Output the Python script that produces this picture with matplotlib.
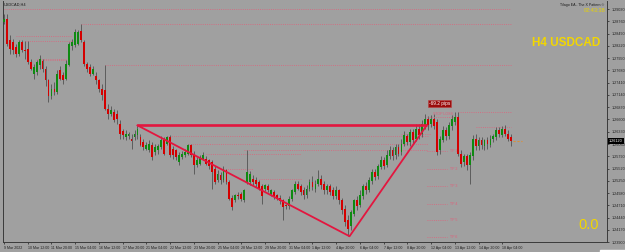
import matplotlib
matplotlib.use('Agg')
import matplotlib.pyplot as plt
from matplotlib.patches import Rectangle

# ---------------- data (USDCAD H4) ----------------
opens = [1.2874,1.2882,1.2834,1.2830,1.2819,1.2803,1.2830,1.2812,1.2816,1.2786,
 1.2761,1.2764,1.2779,1.2788,1.2770,1.2746,1.2711,1.2728,1.2720,1.2768,
 1.2757,1.2750,1.2779,1.2821,1.2823,1.2827,1.2854,1.2830,1.2781,1.2775,
 1.2761,1.2755,1.2746,1.2728,1.2724,1.2684,1.2671,1.2676,1.2671,1.2651,
 1.2634,1.2621,1.2623,1.2618,1.2621,1.2625,1.2621,1.2610,1.2596,1.2592,
 1.2603,1.2588,1.2592,1.2599,1.2614,1.2607,1.2621,1.2596,1.2592,1.2566,
 1.2577,1.2581,1.2585,1.2603,1.2585,1.2559,1.2563,1.2574,1.2572,1.2570,
 1.2566,1.2552,1.2526,1.2537,1.2526,1.2548,1.2522,1.2488,1.2482,1.2493,
 1.2495,1.2482,1.2522,1.2522,1.2530,1.2526,1.2522,1.2513,1.2508,1.2513,
 1.2495,1.2500,1.2493,1.2488,1.2482,1.2471,1.2469,1.2484,1.2500,1.2519,
 1.2513,
 1.2504,1.2493,1.2506,1.2522,1.2508,1.2517,1.2530,1.2517,1.2504,1.2513,
 1.2504,1.2491,1.2504,1.2482,1.2464,1.2438,1.2425,1.2453,1.2482,1.2471,
 1.2491,1.2513,1.2504,1.2524,1.2544,1.2535,1.2555,1.2570,1.2559,1.2579,
 1.2592,1.2581,1.2599,1.2588,1.2607,1.2623,1.2610,1.2632,1.2618,1.2640,
 1.2627,1.2647,1.2660,1.2649,1.2662,1.2654,1.2592,1.2614,1.2636,1.2623,
 1.2645,1.2654,1.2665,1.2585,1.2566,1.2579,1.2559,1.2579,1.2618,1.2601,
 1.2614,1.2601,1.2614,1.2603,1.2616,1.2621,1.2636,1.2625,1.2640,1.2629,
 1.2621]
highs = [1.2893,1.2891,1.2845,1.2838,1.2825,1.2834,1.2834,1.2832,1.2832,1.2794,
 1.2781,1.2790,1.2801,1.2794,1.2777,1.2750,1.2737,1.2742,1.2768,1.2777,
 1.2764,1.2790,1.2830,1.2838,1.2860,1.2856,1.2871,1.2834,1.2786,1.2781,
 1.2777,1.2764,1.2750,1.2737,1.2779,1.2693,1.2689,1.2684,1.2680,1.2658,
 1.2640,1.2636,1.2632,1.2627,1.2636,1.2647,1.2627,1.2616,1.2610,1.2614,
 1.2610,1.2605,1.2605,1.2623,1.2621,1.2623,1.2625,1.2601,1.2596,1.2588,
 1.2590,1.2594,1.2607,1.2607,1.2590,1.2577,1.2581,1.2588,1.2579,1.2574,
 1.2570,1.2557,1.2548,1.2544,1.2557,1.2552,1.2526,1.2493,1.2497,1.2500,
 1.2500,1.2508,1.2592,1.2546,1.2537,1.2533,1.2526,1.2517,1.2519,1.2519,
 1.2508,1.2504,1.2497,1.2493,1.2486,1.2475,1.2491,1.2508,1.2524,1.2524,
 1.2517,
 1.2511,1.2515,1.2530,1.2535,1.2526,1.2548,1.2537,1.2524,1.2519,1.2517,
 1.2511,1.2513,1.2508,1.2488,1.2471,1.2449,1.2460,1.2486,1.2491,1.2504,
 1.2517,1.2522,1.2533,1.2552,1.2552,1.2563,1.2579,1.2577,1.2592,1.2601,
 1.2599,1.2605,1.2607,1.2618,1.2634,1.2629,1.2640,1.2640,1.2649,1.2649,
 1.2658,1.2671,1.2667,1.2669,1.2671,1.2662,1.2623,1.2645,1.2643,1.2654,
 1.2669,1.2676,1.2676,1.2592,1.2583,1.2585,1.2588,1.2625,1.2627,1.2621,
 1.2621,1.2618,1.2621,1.2625,1.2629,1.2643,1.2643,1.2645,1.2647,1.2636,
 1.2627]
lows = [1.2869,1.2821,1.2805,1.2805,1.2797,1.2799,1.2808,1.2794,1.2781,1.2768,
 1.2750,1.2757,1.2772,1.2764,1.2733,1.2698,1.2704,1.2713,1.2715,1.2746,
 1.2737,1.2746,1.2777,1.2812,1.2819,1.2823,1.2830,1.2777,1.2764,1.2755,
 1.2757,1.2737,1.2720,1.2702,1.2680,1.2662,1.2667,1.2654,1.2649,1.2618,
 1.2618,1.2614,1.2616,1.2594,1.2614,1.2618,1.2601,1.2592,1.2592,1.2588,
 1.2570,1.2581,1.2585,1.2594,1.2581,1.2603,1.2577,1.2574,1.2570,1.2559,
 1.2572,1.2577,1.2581,1.2577,1.2541,1.2555,1.2559,1.2570,1.2559,1.2552,
 1.2508,1.2517,1.2522,1.2519,1.2522,1.2517,1.2482,1.2460,1.2478,1.2484,
 1.2480,1.2478,1.2517,1.2515,1.2515,1.2511,1.2504,1.2475,1.2502,1.2500,
 1.2491,1.2486,1.2482,1.2475,1.2438,1.2464,1.2462,1.2480,1.2495,1.2504,
 1.2493,
 1.2486,1.2488,1.2502,1.2504,1.2500,1.2513,1.2508,1.2497,1.2495,1.2493,
 1.2484,1.2486,1.2473,1.2451,1.2425,1.2403,1.2416,1.2447,1.2460,1.2467,
 1.2486,1.2497,1.2500,1.2519,1.2526,1.2530,1.2550,1.2550,1.2555,1.2572,
 1.2570,1.2574,1.2579,1.2581,1.2601,1.2603,1.2601,1.2607,1.2612,1.2618,
 1.2621,1.2640,1.2636,1.2643,1.2640,1.2581,1.2585,1.2610,1.2614,1.2618,
 1.2636,1.2647,1.2579,1.2555,1.2557,1.2548,1.2519,1.2570,1.2592,1.2592,
 1.2596,1.2592,1.2596,1.2599,1.2610,1.2614,1.2621,1.2621,1.2623,1.2612,
 1.2601]
closes = [1.2882,1.2825,1.2816,1.2812,1.2803,1.2830,1.2812,1.2810,1.2786,1.2772,
 1.2775,1.2786,1.2794,1.2770,1.2746,1.2711,1.2728,1.2720,1.2759,1.2750,
 1.2746,1.2783,1.2825,1.2830,1.2852,1.2852,1.2834,1.2781,1.2772,1.2761,
 1.2772,1.2746,1.2728,1.2713,1.2684,1.2671,1.2680,1.2658,1.2662,1.2627,
 1.2625,1.2629,1.2627,1.2612,1.2629,1.2640,1.2603,1.2599,1.2603,1.2607,
 1.2577,1.2599,1.2601,1.2614,1.2585,1.2621,1.2581,1.2581,1.2577,1.2581,
 1.2583,1.2588,1.2603,1.2581,1.2559,1.2570,1.2577,1.2581,1.2563,1.2557,
 1.2544,1.2522,1.2541,1.2526,1.2552,1.2522,1.2486,1.2467,1.2493,1.2491,
 1.2484,1.2504,1.2544,1.2539,1.2522,1.2517,1.2508,1.2491,1.2515,1.2504,
 1.2504,1.2491,1.2486,1.2480,1.2467,1.2469,1.2486,1.2504,1.2519,1.2508,
 1.2500,
 1.2493,1.2508,1.2522,1.2511,1.2519,1.2530,1.2515,1.2504,1.2513,1.2500,
 1.2491,1.2504,1.2482,1.2460,1.2434,1.2420,1.2456,1.2482,1.2469,1.2493,
 1.2513,1.2504,1.2526,1.2544,1.2533,1.2557,1.2570,1.2557,1.2581,1.2592,
 1.2579,1.2599,1.2585,1.2607,1.2625,1.2610,1.2632,1.2614,1.2640,1.2625,
 1.2649,1.2662,1.2647,1.2662,1.2645,1.2588,1.2618,1.2636,1.2623,1.2647,
 1.2662,1.2665,1.2585,1.2561,1.2579,1.2559,1.2581,1.2618,1.2601,1.2614,
 1.2603,1.2614,1.2605,1.2618,1.2623,1.2636,1.2627,1.2640,1.2629,1.2618,
 1.2612]

time_labels = ["9 Mar 2022", "10 Mar 12:00", "11 Mar 20:00", "15 Mar 04:00", "16 Mar 12:00",
               "17 Mar 20:00", "21 Mar 04:00", "22 Mar 12:00", "23 Mar 20:00", "25 Mar 04:00",
               "28 Mar 12:00", "29 Mar 20:00", "31 Mar 04:00", "1 Apr 12:00", "4 Apr 20:00",
               "6 Apr 04:00", "7 Apr 12:00", "8 Apr 20:00", "12 Apr 04:00", "13 Apr 12:00",
               "14 Apr 20:00", "18 Apr 04:00"]
time_label_bars = [0, 8, 16, 24, 32, 40, 48, 56, 64, 72, 80, 88, 96, 104, 112,
                   120, 128, 136, 144, 152, 160, 168]
price_ticks = [1.29030, 1.28760, 1.28490, 1.28220, 1.27950, 1.27680, 1.27410, 1.27140,
               1.26870, 1.26600, 1.26330, 1.26060, 1.25790, 1.25520, 1.25250, 1.24980,
               1.24710, 1.24440, 1.24170, 1.23900]

# dotted level lines: price, start bar, end bar
level_prices = [1.2902, 1.2871, 1.2843, 1.2832, 1.2794, 1.2790, 1.2779, 1.2623, 1.2605,
                1.2592, 1.2585, 1.2550, 1.2530, 1.2676, 1.2643, 1.2629]
level_start = [0, 26, 4, 7, 11, 11, 34, 55, 62, 81, 68, 73, 86, 153, 159, 134]
level_end = [171, 171, 23, 23, 21, 21, 171, 143, 143, 143, 100, 84, 100, 171, 171, 144]

# X pattern points (bar, price)
pattern_bars = [45, 116.5, 142.5]
pattern_prices = [1.2647, 1.2403, 1.2647]

tp_names = ["TP 1", "TP 2", "TP 3", "TP 4", "TP 5", "TP 6"]
tp_prices = [1.2590, 1.2550, 1.2513, 1.2475, 1.2438, 1.2401]
stop_loss_price = 1.2665

# ---------------- drawing ----------------
W, H = 625, 252
BG = '#a0a0a0'
fig = plt.figure(figsize=(W / 100, H / 100), dpi=100)
fig.patch.set_facecolor(BG)

px = 2.966  # pixels per bar
x0 = 4      # pixel of bar 0
ax_l, ax_r, ax_t, ax_b = 3, 607, 1, 242.3
ax = fig.add_axes([ax_l / W, 1 - ax_b / H, (ax_r - ax_l) / W, (ax_b - ax_t) / H])
ax.set_facecolor(BG)

def ppx(y):
    return 1.29228 - 0.00022 * y

ax.set_ylim(ppx(ax_b), ppx(ax_t))
ax.set_xlim((ax_l - x0) / px, (ax_r - x0) / px)

GREEN = '#0f8a12'
RED = '#d40000'
WICK = '#5c5c5c'
idx = list(range(len(opens)))
ax.vlines(idx, lows, highs, color=WICK, lw=0.7, zorder=2)
for i in idx:
    o, c = opens[i], closes[i]
    col = GREEN if c >= o else RED
    lo = min(o, c)
    h = max(abs(c - o), 0.00008)
    ax.bar(i, h, bottom=lo, width=0.62, color=col, lw=0, zorder=3)

# dotted levels
PINK = '#e0607a'
for p, s, e in zip(level_prices, level_start, level_end):
    ax.hlines(p, s, e, colors=PINK, linestyles=(0, (1.0, 1.6)), lw=0.6, zorder=1)

# X pattern lines
CRIM = '#e3163f'
ax.plot([pattern_bars[0], pattern_bars[2]], [pattern_prices[0], pattern_prices[2]],
        color=CRIM, lw=1.9, zorder=4, solid_capstyle='butt')
ax.plot(pattern_bars, pattern_prices, color=CRIM, lw=1.3, zorder=4)

# TP levels
for name, p in zip(tp_names, tp_prices):
    ax.hlines(p, 142.6, 149.5, colors=PINK, linestyles=(0, (1.0, 1.6)), lw=0.6, zorder=1)
    ax.text(150.3, p, name, fontsize=2.6, color=PINK, va='center', ha='left',
            family='Liberation Sans')
ax.hlines(stop_loss_price, 142.6, 153, colors=PINK, linestyles=(0, (1.0, 1.6)), lw=0.6)
ax.text(144.5, 1.2672, "STOP LOSS", fontsize=2.6, color=PINK, va='center', ha='left',
        family='Liberation Sans')
ax.text(143.3, 1.2695, "-69.2 pips", fontsize=3.4, color='white', va='center', ha='left',
        family='Liberation Sans',
        bbox=dict(boxstyle='square,pad=0.25', fc='#9a0c0c', ec='#c04040', lw=0.4))

# last price marker
ax.hlines(closes[-1], len(opens) - 0.5, len(opens) + 2.5, colors='#d8903c',
          linestyles=(0, (2, 1.5)), lw=0.8)

# axes styling
ax.spines['top'].set_visible(False)
for s in ['left', 'right', 'bottom']:
    ax.spines[s].set_color('#3a3a3a')
    ax.spines[s].set_linewidth(0.7)
ax.yaxis.tick_right()
ax.set_yticks(price_ticks, [f"{v:.5f}" for v in price_ticks])
ax.tick_params(axis='y', length=1.5, width=0.5, pad=1.5, labelsize=2.7, colors='#202020')
ax.set_xticks(time_label_bars, time_labels)
ax.tick_params(axis='x', length=1.5, width=0.5, pad=1.2, labelsize=2.6, colors='#202020')
for lab in ax.get_xticklabels():
    lab.set_horizontalalignment('left')
    lab.set_family('Liberation Sans')
for lab in ax.get_yticklabels():
    lab.set_family('Liberation Sans')

# current price label
fig.text(609 / W, 1 - 141 / H, f"{closes[-1]:.5f}", fontsize=2.7, color='white',
         va='center', ha='left', family='Liberation Sans',
         bbox=dict(boxstyle='square,pad=0.3', fc='black', ec='none'))

# texts
fig.text(4 / W, 1 - 5 / H, "USDCAD,H4", fontsize=2.8, color='#1a1a1a', va='center',
         family='Liberation Sans')
fig.text(604 / W, 1 - 5 / H, "Tilago EA - The X Pattern \u00a9", fontsize=2.6,
         color='#1a1a1a', va='center', ha='right', family='Liberation Sans')
fig.text(605 / W, 1 - 11 / H, "02:43:38", fontsize=4.0, color='#e8d200', va='center',
         ha='right', family='Liberation Sans')
fig.text(566 / W, 1 - 43.5 / H, "H4 USDCAD", fontsize=8.5, color='#f2d600', va='center',
         ha='center', fontweight='bold', family='Liberation Sans')
fig.text(589 / W, 1 - 225 / H, "0.0", fontsize=10.5, color='#f2d600', va='center',
         ha='center', family='Liberation Sans')

fig.patches.append(Rectangle((600 / W, 0), 25 / W, 2.5 / H, transform=fig.transFigure,
                             color='white', zorder=10))

fig.savefig('out.png', dpi=100, facecolor=BG)
